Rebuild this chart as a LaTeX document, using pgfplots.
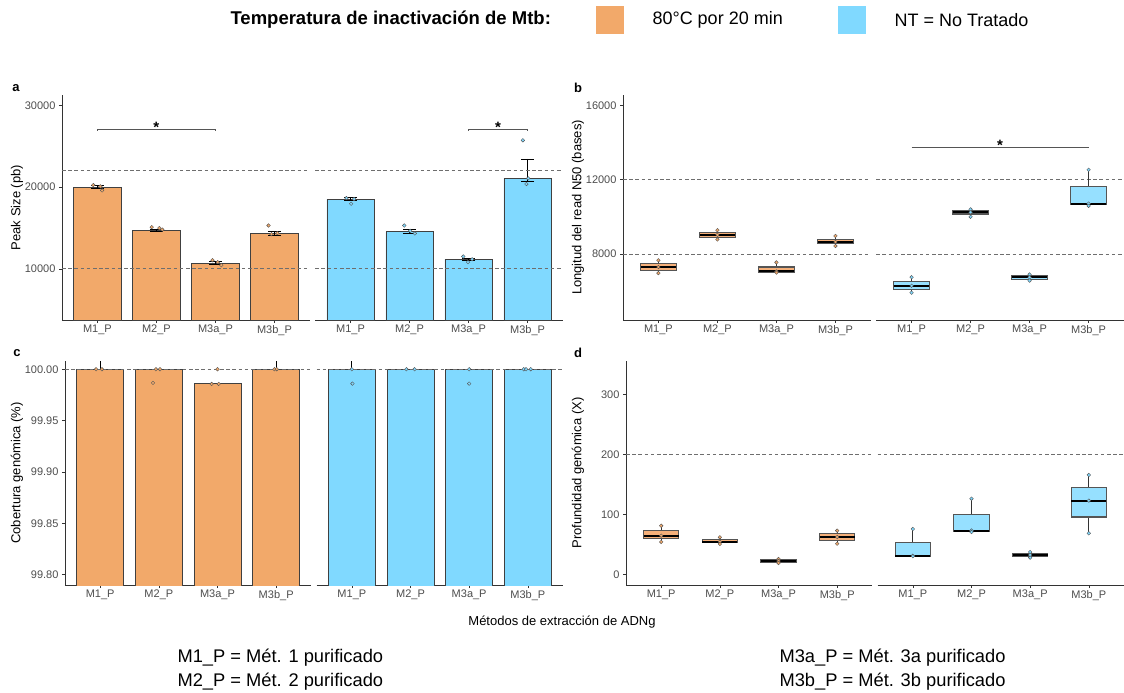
\documentclass[border=0pt]{standalone}
\usepackage{fontspec}
\setmainfont{Liberation Sans}
\usepackage{pgfplots}
\pgfplotsset{compat=1.18}
\definecolor{ora}{HTML}{F2A96A}
\definecolor{blu}{HTML}{80D9FF}
\definecolor{oraL}{HTML}{F5B07A}
\definecolor{bluL}{HTML}{96E0FF}
\definecolor{tgray}{HTML}{4D4D4D}
\definecolor{lgray}{HTML}{333333}
\definecolor{dgray}{HTML}{555555}
\definecolor{hgray}{HTML}{6E6E6E}

\pgfplotsset{
  panel/.style={
    scale only axis, anchor=south west,
    xmin=0.4, xmax=8.89,
    axis x line*=bottom, axis y line*=left,
    x axis line style={draw=none},
    y axis line style={lgray, line width=0.9pt},
    xtick={1,2,3,4,5.29,6.29,7.29,8.29},
    xticklabels={M1\_P,M2\_P,M3a\_P,M3b\_P,M1\_P,M2\_P,M3a\_P,M3b\_P},
    tick align=outside, major tick length=3pt,
    tick style={lgray, line width=0.6pt},
    ticklabel style={font=\fontsize{11}{13}\selectfont, text=tgray},
    xticklabel style={yshift=1.5pt},
    scaled y ticks=false,
    /pgf/number format/1000 sep={},
    /pgf/number format/assume math mode=true,
    clip mode=individual,
  },
  barso/.style={ybar, bar width=0.8, bar shift=0pt, fill=ora, draw=black!75, line width=0.9pt},
  barsb/.style={ybar, bar width=0.8, bar shift=0pt, fill=blu, draw=black!75, line width=0.9pt},
  recto/.style={fill=ora, draw=black!75, line width=0.9pt, mark=none},
  rectb/.style={fill=blu, draw=black!75, line width=0.9pt, mark=none},
  pto/.style={only marks, mark=*, mark size=1.8pt, mark options={fill=ora, draw=dgray, line width=0.4pt}},
  ptb/.style={only marks, mark=*, mark size=1.8pt, mark options={fill=blu, draw=dgray, line width=0.4pt}},
  eb/.style={error bars/.cd, y dir=both, y explicit, error mark=|,
    error bar style={black, line width=0.8pt},
    error mark options={black, line width=0.8pt, mark size=6.5pt}},
}
\newcommand\facetlines{%
  \draw[lgray, line width=0.9pt] (rel axis cs:0,0) -- (rel axis cs:0.4947,0);
  \draw[lgray, line width=0.9pt] (rel axis cs:0.5053,0) -- (rel axis cs:1,0);}
\newcommand\refline[1]{%
  \draw[hgray, line width=0.9pt, dash pattern=on 3.6pt off 2.6pt] (axis cs:0.4,#1) -- (axis cs:4.6,#1);
  \draw[hgray, line width=0.9pt, dash pattern=on 3.6pt off 2.6pt] (axis cs:4.69,#1) -- (axis cs:8.89,#1);}
% box: fill, x left, x centre, x right, lower whisker, Q1, median, Q3, upper whisker
\newcommand\bx[9]{%
  \addplot[lgray, line width=0.7pt, mark=none] coordinates {(#3,#5) (#3,#6)};
  \addplot[lgray, line width=0.7pt, mark=none] coordinates {(#3,#8) (#3,#9)};
  \addplot[fill=#1, draw=dgray, line width=1.1pt, mark=none] coordinates {(#2,#6) (#2,#8) (#4,#8) (#4,#6)} -- cycle;
  \addplot[black, line width=2pt, mark=none] coordinates {(#2,#7) (#4,#7)};}

\begin{document}
\begin{tikzpicture}[x=1pt,y=1pt]
\useasboundingbox (0,0) rectangle (1124,-693);

% ---------------- legend ----------------
\node[anchor=west, font=\bfseries\fontsize{18.5}{20}\selectfont] at (227,-20) {Temperatura de inactivación de Mtb:};
\fill[ora] (596,-6) rectangle (624,-34);
\node[anchor=west, font=\fontsize{18}{20}\selectfont] at (649,-20) {80°C por 20 min};
\fill[blu] (838,-6) rectangle (866,-34);
\node[anchor=west, font=\fontsize{18}{20}\selectfont] at (891,-20) {NT = No Tratado};

% ---------------- panel a ----------------
\begin{axis}[panel, at={(62pt,-320pt)}, width=501pt, height=225pt,
  ymin=3750, ymax=31250, ytick={10000,20000,30000}]
\facetlines
\addplot[barso, eb] coordinates {(1,20000) +- (0,200) (2,14730) +- (0,150) (3,10690) +- (0,200) (4,14330) +- (0,230)};
\addplot[barsb, eb] coordinates {(5.29,18530) +- (0,150) (6.29,14530) +- (0,250) (7.29,11180) +- (0,120) (8.29,21060) += (0,2370) -= (0,330)};
\refline{10000}\refline{22000}
\addplot[pto] coordinates {(0.93,20240) (1.05,20080) (1.08,19590) (1.92,15100) (2.05,14980) (2.1,14800) (2.95,11060) (3.04,10820) (3.1,10450) (3.9,15300) (4.05,14370) (3.95,14240)};
\addplot[ptb] coordinates {(5.22,18650) (5.35,18530) (5.3,17960) (6.2,15300) (6.3,14650) (6.38,14330) (7.2,11510) (7.35,11180) (7.28,10820) (8.21,25710) (8.3,21060) (8.27,20370)};
\draw[dgray, line width=0.7pt] (axis cs:1,26900) -- (axis cs:1,27100) -- (axis cs:3,27100) -- (axis cs:3,26900);
\node[anchor=base, font=\bfseries\fontsize{15}{15}\selectfont] at (axis cs:2,26700) {*};
\draw[dgray, line width=0.7pt] (axis cs:7.29,26900) -- (axis cs:7.29,27100) -- (axis cs:8.29,27100) -- (axis cs:8.29,26900);
\node[anchor=base, font=\bfseries\fontsize{15}{15}\selectfont] at (axis cs:7.79,26700) {*};
\end{axis}

% ---------------- panel b ----------------
\begin{axis}[panel, at={(623pt,-320pt)}, width=501pt, height=225pt,
  ymin=4450, ymax=16550, ytick={8000,12000,16000}]
\facetlines
\refline{8000}\refline{12000}
\bx{oraL}{0.7}{1}{1.3}{6970}{7135}{7300}{7480}{7660}
\bx{oraL}{1.7}{2}{2.3}{8780}{8910}{9030}{9150}{9280}
\bx{oraL}{2.7}{3}{3.3}{7000}{7030}{7060}{7300}{7550}
\bx{oraL}{3.7}{4}{4.3}{8430}{8540}{8650}{8780}{8970}
\bx{bluL}{4.99}{5.29}{5.59}{5920}{6110}{6290}{6510}{6750}
\bx{bluL}{5.99}{6.29}{6.59}{10000}{10150}{10240}{10330}{10400}
\bx{bluL}{6.99}{7.29}{7.59}{6570}{6650}{6740}{6830}{6900}
\bx{bluL}{7.99}{8.29}{8.59}{10590}{10650}{10710}{11620}{12530}
\addplot[pto] coordinates {(1,7660) (1,7300) (1,6970) (2,9280) (2,9030) (2,8780) (3,7550) (3,7060) (3,7000) (4,8970) (4,8650) (4,8430)};
\addplot[ptb] coordinates {(5.29,6750) (5.29,6290) (5.29,5920) (6.29,10400) (6.29,10240) (6.29,10000) (7.29,6900) (7.29,6740) (7.29,6570) (8.29,12530) (8.29,10710) (8.29,10590)};
\draw[dgray, line width=0.7pt] (axis cs:5.29,13740) -- (axis cs:8.29,13740);
\node[anchor=base, font=\bfseries\fontsize{15}{15}\selectfont] at (axis cs:6.79,13560) {*};
\end{axis}

% ---------------- panel c (values shifted by 99.7 for drawing) ----------------
\begin{axis}[panel, at={(65pt,-585pt)}, width=498pt, height=224pt,
  y filter/.expression={y-99.7},
  ymin=0.09, ymax=0.308,
  ytick={0.1,0.15,0.2,0.25,0.3},
  yticklabels={99.80,99.85,99.90,99.95,100.00}]
\facetlines
\addplot[recto] coordinates {(0.6,99.7) (0.6,100) (1.4,100) (1.4,99.7)} -- cycle;
\addplot[recto] coordinates {(1.6,99.7) (1.6,100) (2.4,100) (2.4,99.7)} -- cycle;
\addplot[recto] coordinates {(2.6,99.7) (2.6,99.9857) (3.4,99.9857) (3.4,99.7)} -- cycle;
\addplot[recto] coordinates {(3.6,99.7) (3.6,100) (4.4,100) (4.4,99.7)} -- cycle;
\addplot[rectb] coordinates {(4.89,99.7) (4.89,100) (5.69,100) (5.69,99.7)} -- cycle;
\addplot[rectb] coordinates {(5.89,99.7) (5.89,100) (6.69,100) (6.69,99.7)} -- cycle;
\addplot[rectb] coordinates {(6.89,99.7) (6.89,100) (7.69,100) (7.69,99.7)} -- cycle;
\addplot[rectb] coordinates {(7.89,99.7) (7.89,100) (8.69,100) (8.69,99.7)} -- cycle;
\addplot[black, line width=0.8pt, mark=none] coordinates {(1,100) (1,100.012)};
\addplot[black, line width=0.8pt, mark=none] coordinates {(4,100) (4,100.012)};
\addplot[black, line width=0.8pt, mark=none] coordinates {(5.29,100) (5.29,100.012)};
\refline{0.3}
\addplot[pto] coordinates {(0.93,100) (1.03,100) (1.95,100) (2.02,100) (1.9,99.9867) (2.9,99.9857) (3.02,99.9857) (3.0,100) (3.97,100) (4.01,100)};
\addplot[ptb] coordinates {(5.29,100) (5.3,99.986) (6.22,100) (6.36,100) (7.29,100) (7.29,99.986) (8.22,100) (8.26,100) (8.34,100)};
\end{axis}

% ---------------- panel d ----------------
\begin{axis}[panel, at={(626pt,-585pt)}, width=498pt, height=224pt,
  ymin=-17.8, ymax=355.5, ytick={0,100,200,300}]
\facetlines
\refline{200}
\bx{oraL}{0.7}{1}{1.3}{54}{59.2}{64.4}{72.7}{81}
\bx{oraL}{1.7}{2}{2.3}{50.6}{52.3}{54.4}{57.5}{61.7}
\bx{oraL}{2.7}{3}{3.3}{18.9}{20.6}{22.2}{23.8}{25.5}
\bx{oraL}{3.7}{4}{4.3}{51.1}{56.7}{62.2}{67.5}{72.8}
\bx{bluL}{4.99}{5.29}{5.59}{30.2}{30.6}{31}{53.3}{75.6}
\bx{bluL}{5.99}{6.29}{6.59}{70.5}{71.8}{73}{99.5}{126}
\bx{bluL}{6.99}{7.29}{7.59}{27.8}{30}{32.2}{34.7}{37.2}
\bx{bluL}{7.99}{8.29}{8.59}{68.3}{95.6}{122.8}{144.2}{165.6}
\addplot[pto] coordinates {(1,81) (1,64.4) (1,54) (2,61.7) (2,54.4) (2,50.6) (3,25.5) (3,22.2) (3,18.9) (4,72.8) (4,62.2) (4,51.1)};
\addplot[ptb] coordinates {(5.29,75.6) (5.29,31) (5.29,30.2) (6.29,126) (6.29,73) (6.29,70.5) (7.29,37.2) (7.29,32.2) (7.29,27.8) (8.29,165.6) (8.29,122.8) (8.29,68.3)};
\end{axis}

% ---------------- panel letters and axis titles ----------------
\node[font=\bfseries\fontsize{13}{13}\selectfont] at (16,-88) {a};
\node[font=\bfseries\fontsize{13}{13}\selectfont] at (578,-88) {b};
\node[font=\bfseries\fontsize{13}{13}\selectfont] at (17,-353) {c};
\node[font=\bfseries\fontsize{13}{13}\selectfont] at (578,-353) {d};
\node[rotate=90, font=\fontsize{13}{15}\selectfont] at (17,-207.5) {Peak Size (pb)};
\node[rotate=90, font=\fontsize{13}{15}\selectfont] at (578,-207.5) {Longitud del read N50 (bases)};
\node[rotate=90, font=\fontsize{13}{15}\selectfont] at (17,-473) {Cobertura genómica (\%)};
\node[rotate=90, font=\fontsize{13}{15}\selectfont] at (578,-473) {Profundidad genómica (X)};

% ---------------- bottom texts ----------------
\node[font=\fontsize{13}{15}\selectfont] at (562,-622) {Métodos de extracción de ADNg};
\node[anchor=west, font=\fontsize{18.3}{20}\selectfont] at (174,-658) {M1\_P = Mét. 1 purificado};
\node[anchor=west, font=\fontsize{18.3}{20}\selectfont] at (174,-682) {M2\_P = Mét. 2 purificado};
\node[anchor=west, font=\fontsize{18.3}{20}\selectfont] at (776,-658) {M3a\_P = Mét. 3a purificado};
\node[anchor=west, font=\fontsize{18.3}{20}\selectfont] at (776,-682) {M3b\_P = Mét. 3b purificado};
\end{tikzpicture}
\end{document}
